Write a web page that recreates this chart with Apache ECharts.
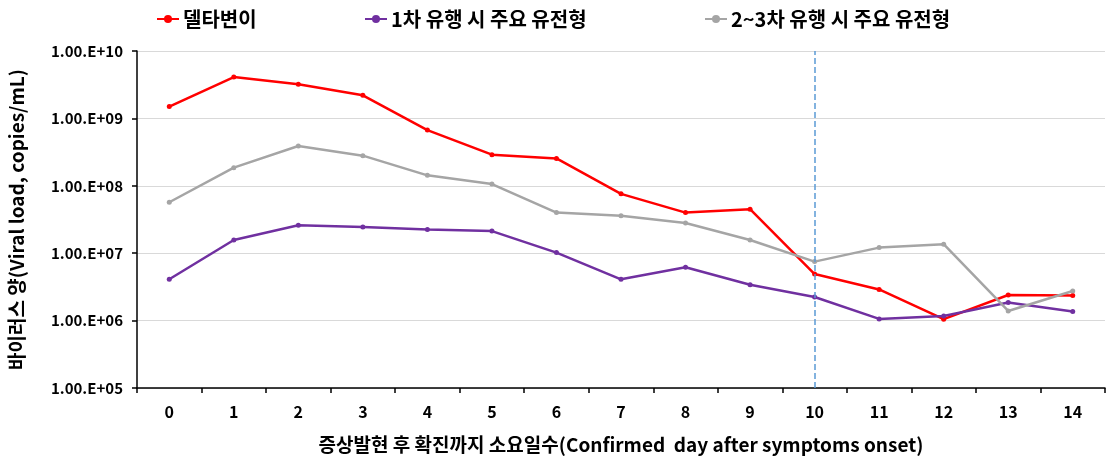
<!DOCTYPE html>
<html>
<head>
<meta charset="utf-8">
<script src="https://cdn.jsdelivr.net/npm/echarts@6/dist/echarts.min.js"></script>
<style>
  html, body { margin: 0; padding: 0; background: #fff; }
  #chart { width: 1107px; height: 461px; }
</style>
</head>
<body>
<div id="chart"></div>
<script>
// 증상발현 후 확진까지 소요일수
const days = ['0', '1', '2', '3', '4', '5', '6', '7', '8', '9', '10', '11', '12', '13', '14']

const seriesNames = ['델타변이', '1차 유행 시 주요 유전형', '2~3차 유행 시 주요 유전형']

const delta = [1.5e9, 4.1e9, 3.2e9, 2.2e9, 6.7e8, 2.9e8, 2.55e8, 7.6e7, 4.0e7, 4.5e7, 4.9e6, 2.9e6, 1.05e6, 2.4e6, 2.35e6]
const wave1 = [4.1e6, 1.57e7, 2.6e7, 2.45e7, 2.24e7, 2.13e7, 1.02e7, 4.1e6, 6.2e6, 3.4e6, 2.24e6, 1.06e6, 1.17e6, 1.86e6, 1.36e6]
const wave23 = [5.7e7, 1.86e8, 3.9e8, 2.8e8, 1.43e8, 1.06e8, 4.0e7, 3.6e7, 2.8e7, 1.57e7, 7.5e6, 1.21e7, 1.36e7, 1.39e6, 2.75e6]

const markDay = '10'

const colors = ['#ff0000', '#7030a0', '#a5a5a5']
const font = "'Noto Sans CJK KR', sans-serif"

const chart = echarts.init(document.getElementById('chart'))

const fmtSci = (v) => {
  const e = Math.round(Math.log10(v))
  return '1.00.E+' + String(e).padStart(2, '0')
}

const mkSeries = (name, data, color) => ({
  name,
  type: 'line',
  data,
  symbol: 'circle',
  symbolSize: 5,
  lineStyle: { color, width: 2.5 },
  itemStyle: { color },
  z: 3
})

const legendPos = [151, 359, 699]

const option = {
  animation: false,
  textStyle: { fontFamily: font },
  legend: seriesNames.map((n, i) => ({
    data: [n],
    left: legendPos[i],
    top: 4,
    itemWidth: 22,
    itemHeight: 10,
    itemGap: 4,
    textStyle: { fontSize: 20, fontWeight: 'bold', color: '#000', fontFamily: font, padding: [0, 0, 0, -1] }
  })),
  grid: { left: 137, right: 2, top: 51, bottom: 73, containLabel: false, outerBoundsMode: 'none' },
  xAxis: {
    type: 'category',
    data: days,
    boundaryGap: true,
    name: '증상발현 후 확진까지 소요일수(Confirmed  day after symptoms onset)',
    nameLocation: 'middle',
    nameGap: 47,
    nameTextStyle: { fontSize: 19, fontWeight: 'bold', color: '#000', fontFamily: font },
    axisLine: { lineStyle: { color: '#000', width: 1.5 } },
    axisTick: { show: true, length: 5, lineStyle: { color: '#000', width: 1.5 } },
    axisLabel: { fontSize: 16, fontWeight: 'bold', color: '#000', margin: 16 }
  },
  yAxis: {
    type: 'log',
    logBase: 10,
    min: 1e5,
    max: 1e10,
    name: '바이러스 양(Viral load, copies/mL)',
    nameLocation: 'middle',
    nameGap: 111,
    nameTextStyle: { fontSize: 19, fontWeight: 'bold', color: '#000', fontFamily: font },
    axisLine: { show: true, lineStyle: { color: '#000', width: 1.5 } },
    axisTick: { show: true, length: 5, lineStyle: { color: '#000', width: 1.5 } },
    axisLabel: { fontSize: 15, fontWeight: 'bold', color: '#000', margin: 14, formatter: fmtSci },
    splitLine: { show: true, lineStyle: { color: '#d9d9d9', width: 1 } }
  },
  series: [
    mkSeries(seriesNames[0], delta, colors[0]),
    mkSeries(seriesNames[1], wave1, colors[1]),
    mkSeries(seriesNames[2], wave23, colors[2])
  ]
}

option.series[0].markLine = {
  silent: true,
  symbol: 'none',
  label: { show: false },
  lineStyle: { color: '#5b9bd5', type: 'dashed', width: 1.5 },
  data: [{ xAxis: markDay }]
}

chart.setOption(option)
</script>
</body>
</html>
